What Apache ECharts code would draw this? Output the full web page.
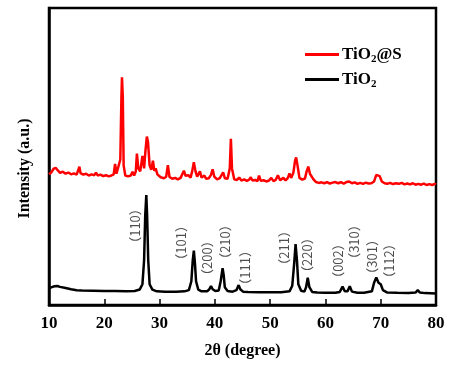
<!DOCTYPE html>
<html>
<head>
<meta charset="utf-8">
<script src="https://cdn.jsdelivr.net/npm/echarts@6/dist/echarts.min.js"></script>
<style>html,body{margin:0;padding:0;background:#fff;}#c{width:459px;height:368px;}</style>
</head>
<body>
<div id="c"></div>
<script>
var seriesNames = ['TiO2@S', 'TiO2'];
var xTicks = [10, 20, 30, 40, 50, 60, 70, 80];

var tio2S = [[10,44.0],[10.4,44.6],[10.8,45.8],[11.2,46.2],[11.6,45.3],[12,44.5],[12.5,44.9],[13,44.2],[13.5,44.6],[14,44.0],[14.5,44.3],[15,43.9],[15.3,44.5],[15.5,46.6],[15.7,44.4],[16.2,43.9],[16.7,44.2],[17.2,43.6],[17.7,44.0],[18.2,43.7],[18.5,44.6],[18.8,43.6],[19.3,43.9],[19.8,43.4],[20.3,43.7],[20.8,43.3],[21.3,43.6],[21.7,44.0],[21.95,47.5],[22.2,44.2],[22.5,44.6],[22.9,49],[23.1,70],[23.2,76.7],[23.35,70],[23.5,47],[23.8,43.6],[24.3,43.3],[24.8,43.6],[25.1,44.9],[25.4,43.6],[25.7,45],[25.9,51],[26.15,46],[26.5,45],[26.9,50.2],[27.2,46],[27.45,52],[27.7,56.7],[27.9,55],[28.2,47],[28.5,45.5],[28.8,48.6],[29.05,45.2],[29.3,46],[29.6,44],[30.2,43.0],[30.8,42.7],[31.2,43.2],[31.5,47.1],[31.8,43.1],[32.3,42.5],[32.8,42.8],[33.3,42.3],[33.8,42.8],[34.1,43.4],[34.4,45.2],[34.7,43.5],[35.2,43.7],[35.6,42.9],[35.9,45],[36.2,48.1],[36.5,45],[36.8,43.2],[37.3,45.0],[37.6,42.9],[38.1,43.6],[38.4,42.5],[38.9,42.7],[39.3,43.8],[39.6,45.7],[39.9,43.2],[40.4,42.3],[40.9,42.7],[41.2,43.0],[41.5,44.7],[41.8,42.7],[42.3,42.5],[42.7,46],[42.9,56],[43.1,46],[43.5,42.3],[44.0,42.1],[44.4,42.9],[44.8,41.9],[45.3,42.3],[45.8,41.8],[46.2,42.2],[46.5,43.0],[46.8,41.9],[47.3,42.1],[47.7,41.7],[48.0,43.6],[48.3,41.8],[48.8,42.0],[49.3,41.6],[49.8,41.9],[50.2,42.8],[50.6,41.7],[51.0,42.1],[51.4,43.7],[51.8,42.0],[52.4,42.8],[52.8,41.9],[53.2,42.8],[53.5,44.3],[53.8,42.8],[54.2,44.5],[54.5,48.5],[54.7,49.7],[54.95,47],[55.3,42.8],[55.8,42.2],[56.3,42.6],[56.6,45],[56.9,46.6],[57.2,44.2],[57.5,44.0],[57.8,42.4],[58.3,41.4],[58.8,41.1],[59.3,41.3],[59.8,41.0],[60.3,41.4],[60.8,40.9],[61.3,41.2],[61.8,41.4],[62.3,41.0],[62.8,41.4],[63.3,40.9],[63.8,41.4],[64.3,41.6],[64.8,41.0],[65.3,41.3],[65.8,40.8],[66.3,41.1],[66.8,40.8],[67.3,41.2],[67.8,40.9],[68.3,41.0],[68.8,41.6],[69.2,43.8],[69.5,44.3],[69.8,43.4],[70.2,41.6],[70.7,41.0],[71.2,40.8],[71.7,41.1],[72.2,40.7],[72.7,41.0],[73.0,41.6],[73.3,40.8],[73.8,41.1],[74.3,40.6],[74.8,40.9],[75.3,40.6],[75.8,41.0],[76.3,40.5],[76.8,40.8],[77.3,40.5],[77.8,40.9],[78.3,40.4],[78.8,40.7],[79.3,40.4],[79.8,40.8],[80,40.6]];

var tio2 = [[10,5.6],[10.5,6.0],[11,6.3],[11.5,6.4],[12,6.1],[13,5.7],[14,5.3],[15,5.0],[16,4.9],[18,4.8],[20,4.7],[22,4.7],[24,4.6],[25.5,4.7],[26.4,5.2],[26.9,7],[27.2,15],[27.4,30],[27.6,37],[27.75,30],[27.95,15],[28.2,7],[28.7,5.2],[29.5,4.6],[31,4.5],[33,4.5],[34.5,4.6],[35.3,5],[35.75,8],[36.0,15],[36.2,18.3],[36.4,14],[36.6,8],[37.0,5.2],[37.6,4.6],[38.6,4.6],[39.0,5.3],[39.3,6.4],[39.6,5.3],[40.1,4.7],[40.7,4.9],[41.05,8],[41.4,12.4],[41.6,10],[41.8,6],[42.3,4.7],[43.2,4.5],[43.9,5],[44.3,6.7],[44.6,5.3],[45.1,4.5],[46,4.4],[48,4.3],[50,4.3],[52,4.3],[53.5,4.6],[54.0,6.5],[54.35,14],[54.6,20.5],[54.85,15],[55.1,7],[55.6,4.8],[56.2,4.5],[56.5,6],[56.8,9.2],[57.1,6],[57.6,4.4],[58.5,4.2],[60,4.1],[61.8,4.1],[62.6,4.4],[63.1,6.2],[63.5,4.6],[64.0,4.6],[64.4,6.3],[64.8,4.5],[65.8,4.1],[67,4.1],[68.4,4.6],[68.8,7.5],[69.2,9.3],[69.6,7.5],[70.0,7.0],[70.4,5],[71.2,4.2],[73,4.1],[75,4.0],[76.3,4.2],[76.7,5.0],[77.1,4.2],[78,4.0],[80,3.9]];

var peakLabels = ['（110）','（101）','（200）','（210）','（111）','（211）','（220）','（002）','（310）','（301）','（112）'];
var peakLabelX = [25.6, 33.8, 38.6, 41.9, 45.4, 52.5, 56.7, 62.2, 65.2, 68.5, 71.5];
var peakLabelY = [26.6, 20.9, 15.8, 21.2, 12.5, 19.2, 16.8, 14.8, 21.2, 16.2, 14.8];

var labelData = peakLabels.map(function (t, i) { return {value: [peakLabelX[i], peakLabelY[i]], name: t}; });

var serif = '"Liberation Serif", "Times New Roman", serif';
var chart = echarts.init(document.getElementById('c'), null, {renderer: 'canvas'});
chart.setOption({
  backgroundColor: '#fff',
  animation: false,
  grid: {left: 49, right: 23, top: 8, bottom: 63, show: true, borderColor: '#000', borderWidth: 2.5, backgroundColor: 'transparent'},
  legend: {
    orient: 'vertical', left: 300, top: 41, itemGap: 5,
    icon: 'rect', itemWidth: 34, itemHeight: 3, itemGap: 6,
    data: seriesNames,
    formatter: function (n) { return n === 'TiO2@S' ? 'TiO{s|2}@S' : 'TiO{s|2}'; },
    textStyle: {fontFamily: serif, fontWeight: 'bold', fontSize: 17, color: '#000', padding: [0,0,0,-2],
      rich: {s: {fontFamily: serif, fontWeight: 'bold', fontSize: 11, color: '#000', verticalAlign: 'bottom', padding: [10, 0, 0, 0]}}}
  },
  xAxis: {
    type: 'value', min: 10, max: 80, interval: 10,
    name: '2θ (degree)', nameLocation: 'middle', nameGap: 38,
    nameTextStyle: {fontFamily: serif, fontWeight: 'bold', fontSize: 16, color: '#000'},
    axisLine: {lineStyle: {color: '#000', width: 2.5}},
    axisTick: {inside: true, length: 6, lineStyle: {color: '#000', width: 1.5}},
    axisLabel: {fontFamily: serif, fontWeight: 'bold', fontSize: 17, color: '#000', margin: 10,
      formatter: function (v) { return xTicks.indexOf(v) >= 0 ? String(v) : ''; }},
    splitLine: {show: false}
  },
  yAxis: {
    type: 'value', min: 0, max: 100,
    name: 'Intensity (a.u.)', nameLocation: 'middle', nameGap: 16,
    nameTextStyle: {fontFamily: serif, fontWeight: 'bold', fontSize: 16, color: '#000', padding: [0, 24, 0, 0]},
    axisLine: {show: true, lineStyle: {color: '#000', width: 2.5}},
    axisTick: {show: false}, axisLabel: {show: false}, splitLine: {show: false}
  },
  series: [
    {name: 'TiO2@S', type: 'line', data: tio2S, showSymbol: false, symbol: 'none', lineStyle: {color: '#ff0000', width: 2.5}, itemStyle: {color: '#ff0000'}, z: 3},
    {name: 'TiO2', type: 'line', data: tio2, showSymbol: false, symbol: 'none', lineStyle: {color: '#000', width: 2.5}, itemStyle: {color: '#000'}, z: 4},
    {name: 'labels', type: 'scatter', data: labelData, symbolSize: 0, silent: true, z: 5,
      label: {show: true, position: 'inside', rotate: 90, formatter: '{b}',
        fontFamily: '"Noto Sans CJK SC", "Liberation Sans", sans-serif', fontSize: 13, color: '#222'}}
  ]
});
</script>
</body>
</html>
